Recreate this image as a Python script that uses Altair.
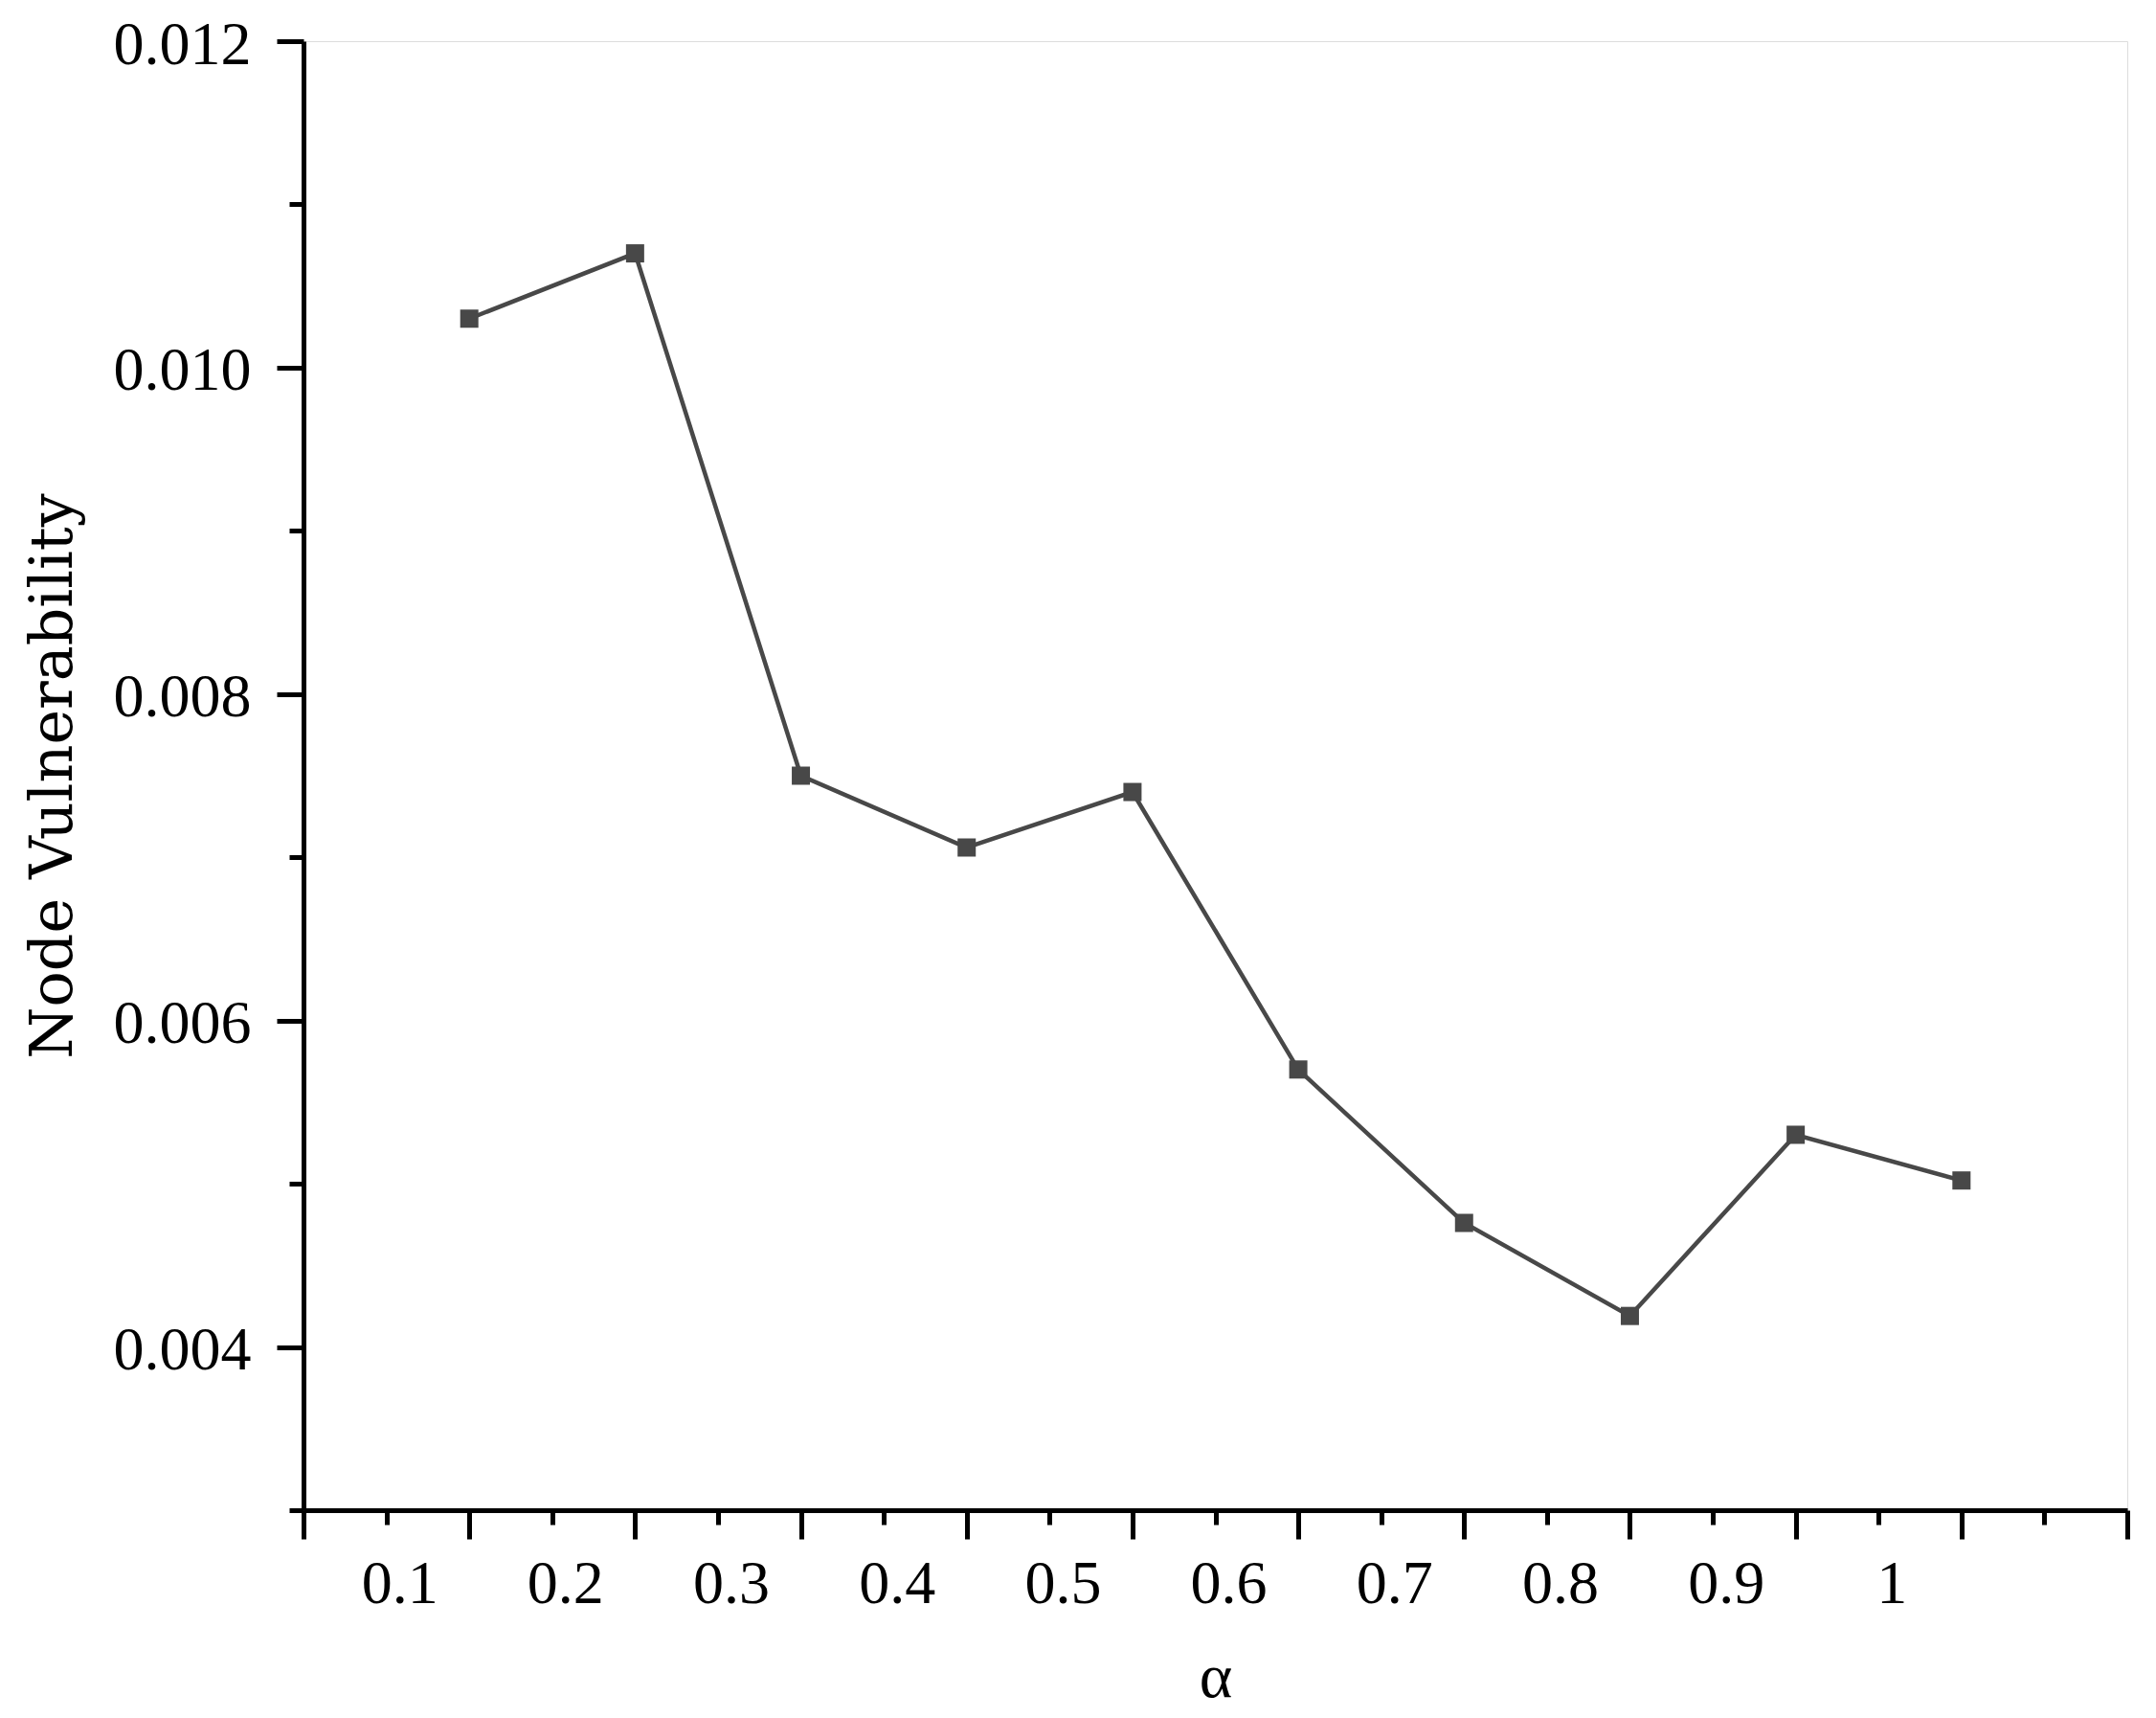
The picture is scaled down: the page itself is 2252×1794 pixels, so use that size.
import altair as alt
import pandas as pd

alpha = [0.1, 0.2, 0.3, 0.4, 0.5, 0.6, 0.7, 0.8, 0.9, 1.0]
vulnerability = [0.0103, 0.0107, 0.0075, 0.00706, 0.0074, 0.0057, 0.00476, 0.00419, 0.0053, 0.00502]

x_major = [0.0, 0.1, 0.2, 0.3, 0.4, 0.5, 0.6, 0.7, 0.8, 0.9, 1.0, 1.1]
x_minor = [0.05, 0.15, 0.25, 0.35, 0.45, 0.55, 0.65, 0.75, 0.85, 0.95, 1.05]
y_major = [0.004, 0.006, 0.008, 0.010, 0.012]
y_minor = [0.003, 0.005, 0.007, 0.009, 0.011]

df = pd.DataFrame({"alpha": alpha, "v": vulnerability})

FONT = "Liberation Serif"
TITLE_FONT = "DejaVu Serif"
LINE_COLOR = "#484848"

x_scale = alt.Scale(domain=[0, 1.1], nice=False, zero=False)
y_scale = alt.Scale(domain=[0.003, 0.012], nice=False, zero=False)

x_axis_major = alt.Axis(
    orient="bottom", values=x_major, tickSize=30, tickWidth=5, tickColor="black",
    domainWidth=5, domainColor="black", labelFont=FONT, labelFontSize=64,
    labelColor="black", labelPadding=15, labelOffset=-73, labelFlush=False,
    labelOverlap=False,
    labelExpr="(datum.value < 0.05 || datum.value > 1.05) ? '' : format(datum.value, '.1~f')",
    title="α", titleFont=FONT, titleFontSize=66, titleFontWeight="normal",
    titleColor="black", titleBaseline="alphabetic", titleY=194, grid=False,
)
y_axis_major = alt.Axis(
    orient="left", values=y_major, tickSize=28, tickWidth=5, tickColor="black",
    domainWidth=5, domainColor="black", labelFont=FONT, labelFontSize=64,
    labelColor="black", labelPadding=27, labelOffset=4, format=".3f", labelFlush=False,
    labelOverlap=False,
    title="Node Vulnerability", titleFont=TITLE_FONT, titleFontSize=62,
    titleFontWeight="normal", titleColor="black", titleAngle=-90,
    titleAlign="center", titleBaseline="bottom", titleX=-230, titleY=767, grid=False,
)
x_axis_minor = alt.Axis(
    orient="bottom", values=x_minor, tickSize=15, tickWidth=5, tickColor="black",
    domain=False, labels=False, title=None, grid=False,
)
y_axis_minor = alt.Axis(
    orient="left", values=y_minor, tickSize=15, tickWidth=5, tickColor="black",
    domain=False, labels=False, title=None, grid=False,
)

line = alt.Chart(df).mark_line(color=LINE_COLOR, strokeWidth=4.5).encode(
    x=alt.X("alpha:Q", scale=x_scale, axis=x_axis_major),
    y=alt.Y("v:Q", scale=y_scale, axis=y_axis_major),
)
points = alt.Chart(df).mark_point(
    shape="square", filled=True, size=361, color=LINE_COLOR, opacity=1
).encode(
    x=alt.X("alpha:Q", scale=x_scale, axis=x_axis_minor),
    y=alt.Y("v:Q", scale=y_scale, axis=y_axis_minor),
)

chart = (
    alt.layer(line, points)
    .resolve_axis(x="independent", y="independent")
    .properties(
        width=1905, height=1534,
        autosize=alt.AutoSizeParams(type="none"),
        padding={"left": 309, "top": 35, "right": 22, "bottom": 209},
    )
    .configure_view(stroke=None)
    .configure(background="white")
)

chart.save("out.html", embed_options={"renderer": "svg", "actions": False})
